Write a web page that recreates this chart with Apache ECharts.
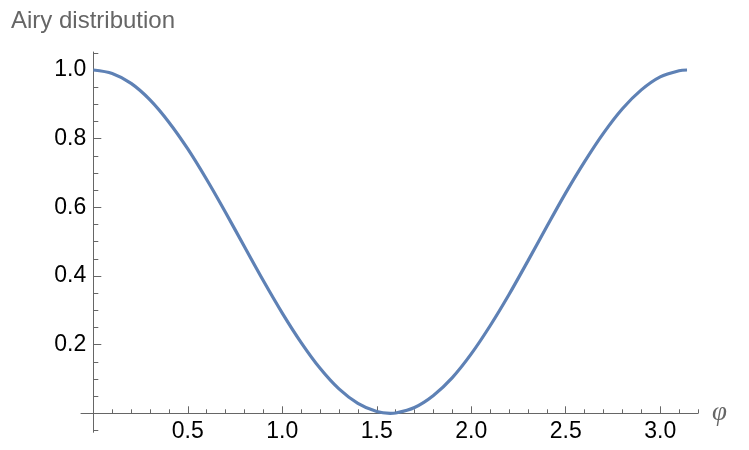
<!DOCTYPE html>
<html>
<head>
<meta charset="utf-8">
<script src="https://cdn.jsdelivr.net/npm/echarts@6/dist/echarts.min.js"></script>
<style>
html, body { margin: 0; padding: 0; background: #FFFFFF; }
#main { width: 749px; height: 450px; }
</style>
</head>
<body>
<div id="main"></div>
<script>
//////////// Airy distribution //////////////////
// values
var phi = [0, 0.1, 0.2, 0.3, 0.4, 0.5, 0.6, 0.7, 0.8, 0.9, 1.0, 1.1, 1.2, 1.3, 1.4, 1.5, 1.571,
           1.6, 1.7, 1.8, 1.9, 2.0, 2.1, 2.2, 2.3, 2.4, 2.5, 2.6, 2.7, 2.8, 2.9, 3.0, 3.1, 3.142];
var airy = [1.000, 0.990, 0.961, 0.913, 0.848, 0.770, 0.681, 0.585, 0.485, 0.386, 0.292, 0.206, 0.131, 0.071, 0.029, 0.005, 0.000,
            0.001, 0.017, 0.052, 0.104, 0.173, 0.255, 0.346, 0.444, 0.544, 0.642, 0.733, 0.816, 0.887, 0.942, 0.980, 0.998, 1.000];
var xMajor = [0.5, 1.0, 1.5, 2.0, 2.5, 3.0];
var xMinor = [0.1, 0.2, 0.3, 0.4, 0.6, 0.7, 0.8, 0.9, 1.1, 1.2, 1.3, 1.4, 1.6, 1.7, 1.8, 1.9,
              2.1, 2.2, 2.3, 2.4, 2.6, 2.7, 2.8, 2.9, 3.1, 3.2];
var yMajor = [0.2, 0.4, 0.6, 0.8, 1.0];
var yMinor = [0.05, 0.1, 0.15, 0.25, 0.3, 0.35, 0.45, 0.5, 0.55, 0.65, 0.7, 0.75, 0.85, 0.9, 0.95, 1.05];
var yBelow = [-0.05];

var points = phi.map(function (p, i) { return [p, airy[i]]; });

var axisGray = '#666666';
var tickFont = { fontFamily: 'Liberation Sans', fontSize: 23, color: '#000000' };

function fmt(v) { return v.toFixed(1); }
function hidden(grid, min, max) {
    return { type: 'value', gridIndex: grid, min: min, max: max, show: false };
}

var chart = echarts.init(document.getElementById('main'));
var option = {
    backgroundColor: '#FFFFFF',
    animation: false,
    title: {
        text: 'Airy distribution',
        left: 6,
        top: 4,
        textStyle: {
            fontFamily: 'Liberation Sans',
            fontSize: 24,
            fontWeight: 'normal',
            color: '#666666'
        }
    },
    grid: [
        // main plot area
        { left: 93.3, right: 51, top: 52, bottom: 36.7, outerBoundsMode: 'none' },
        // bit of the x axis left of the y axis
        { left: 81, right: 655.7, top: 52, bottom: 36.7, outerBoundsMode: 'none' },
        // bit of the y axis below the x axis
        { left: 93.3, right: 51, top: 413.3, bottom: 17.7, outerBoundsMode: 'none' }
    ],
    xAxis: [{
        type: 'value',
        gridIndex: 0,
        min: 0,
        max: 3.2,
        position: 'bottom',
        name: 'φ',
        nameLocation: 'end',
        nameGap: 14,
        nameTextStyle: {
            fontFamily: 'Liberation Serif',
            fontStyle: 'italic',
            fontSize: 27,
            color: '#666666',
            verticalAlign: 'middle'
        },
        axisLine: { show: true, onZero: false, lineStyle: { color: axisGray, width: 1 } },
        axisTick: { show: true, inside: true, length: 7, customValues: xMajor, lineStyle: { color: axisGray } },
        axisLabel: { show: true, customValues: xMajor, margin: 7, formatter: fmt,
                     fontFamily: tickFont.fontFamily, fontSize: tickFont.fontSize, color: tickFont.color },
        splitLine: { show: false }
    }, {
        type: 'value',
        gridIndex: 0,
        min: 0,
        max: 3.2,
        position: 'bottom',
        axisLine: { show: false, onZero: false },
        axisTick: { show: true, inside: true, length: 4, customValues: xMinor, lineStyle: { color: axisGray } },
        axisLabel: { show: false },
        splitLine: { show: false }
    }, {
        type: 'value',
        gridIndex: 1,
        min: 0,
        max: 1,
        position: 'bottom',
        axisLine: { show: true, onZero: false, lineStyle: { color: axisGray, width: 1 } },
        axisTick: { show: false },
        axisLabel: { show: false },
        splitLine: { show: false }
    },
        hidden(2, 0, 3.2)
    ],
    yAxis: [{
        type: 'value',
        gridIndex: 0,
        min: 0,
        max: 1.0524,
        position: 'left',
        axisLine: { show: true, onZero: false, lineStyle: { color: axisGray, width: 1 } },
        axisTick: { show: true, inside: true, length: 8, customValues: yMajor, lineStyle: { color: axisGray } },
        axisLabel: { show: true, customValues: yMajor, margin: 7, formatter: fmt,
                     fontFamily: tickFont.fontFamily, fontSize: tickFont.fontSize, color: tickFont.color },
        splitLine: { show: false }
    }, {
        type: 'value',
        gridIndex: 0,
        min: 0,
        max: 1.0524,
        position: 'left',
        axisLine: { show: false, onZero: false },
        axisTick: { show: true, inside: true, length: 5, customValues: yMinor, lineStyle: { color: axisGray } },
        axisLabel: { show: false },
        splitLine: { show: false }
    },
        hidden(1, 0, 1),
    {
        type: 'value',
        gridIndex: 2,
        min: -0.0545,
        max: 0,
        position: 'left',
        axisLine: { show: true, onZero: false, lineStyle: { color: axisGray, width: 1 } },
        axisTick: { show: true, inside: true, length: 5, customValues: yBelow, lineStyle: { color: axisGray } },
        axisLabel: { show: false },
        splitLine: { show: false }
    }],
    series: [{
        type: 'line',
        xAxisIndex: 0,
        yAxisIndex: 0,
        data: points,
        smooth: 0.3,
        showSymbol: false,
        clip: false,
        lineStyle: { color: '#5E81B5', width: 3.2 },
        color: '#5E81B5'
    }]
};
chart.setOption(option);
</script>
</body>
</html>
